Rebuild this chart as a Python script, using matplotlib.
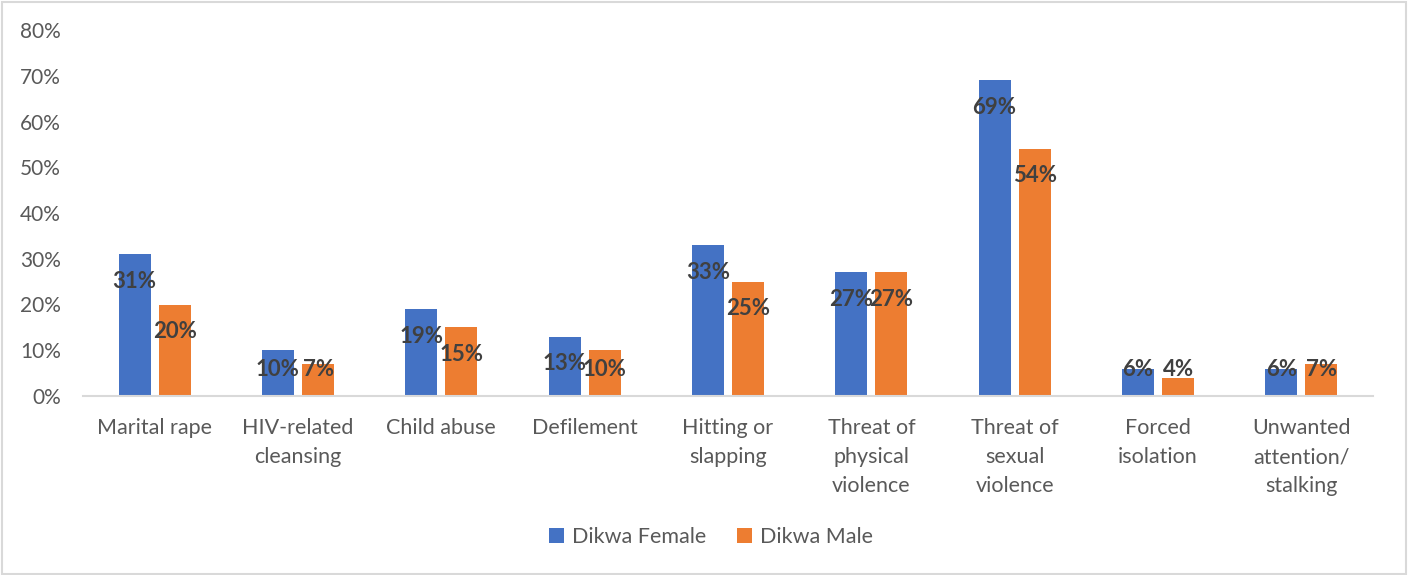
import matplotlib.pyplot as plt
import numpy as np
from matplotlib.patches import Rectangle
from matplotlib.ticker import MultipleLocator, PercentFormatter

categories = ["Marital rape", "HIV-related\ncleansing", "Child abuse", "Defilement",
              "Hitting or\nslapping", "Threat of\nphysical\nviolence",
              "Threat of\nsexual\nviolence", "Forced\nisolation",
              "Unwanted\nattention/\nstalking"]
female = [31, 10, 19, 13, 33, 27, 69, 6, 6]
male = [20, 7, 15, 10, 25, 27, 54, 4, 7]
series_names = ["Dikwa Female", "Dikwa Male"]

blue = "#4472C4"
orange = "#ED7D31"
text_col = "#595959"
label_col = "#404040"

plt.rcParams['font.family'] = ['Lato', 'DejaVu Sans']

fig = plt.figure(figsize=(14.08, 5.75), dpi=100)
ax = fig.add_axes([83 / 1408, 1 - 396 / 575, 1290 / 1408, 366 / 575])

x = np.arange(len(categories))
w = 0.223
off = 0.14
b1 = ax.bar(x - off, female, w, color=blue, label=series_names[0])
b2 = ax.bar(x + off, male, w, color=orange, label=series_names[1])

# value labels sit just inside the top of each bar, never too close to the axis
for bars, vals in ((b1, female), (b2, male)):
    for rect, v in zip(bars, vals):
        y = max(v - 5.9, 5.7)
        ax.text(rect.get_x() + rect.get_width() / 2, y, f"{v}%", ha="center",
                va="center", fontsize=16, fontweight="bold", color=label_col)

ax.set_xlim(-0.5, len(categories) - 0.5)
ax.set_ylim(0, 80)
ax.yaxis.set_major_locator(MultipleLocator(10))
ax.yaxis.set_major_formatter(PercentFormatter(decimals=0))
ax.set_xticks(x)
ax.set_xticklabels(categories, fontsize=15.5, color=text_col, linespacing=1.56)
ax.tick_params(axis="y", labelsize=15, labelcolor=text_col, length=0, pad=16)
ax.tick_params(axis="x", length=0, pad=16)
for s in ("top", "right", "left"):
    ax.spines[s].set_visible(False)
ax.spines["bottom"].set_color("#D9D9D9")
ax.spines["bottom"].set_linewidth(1.5)

fig.legend(loc="center", bbox_to_anchor=(0.505, 1 - 537 / 575), ncol=2,
           frameon=False, fontsize=15.5, labelcolor=text_col, handlelength=0.7,
           handleheight=0.7, columnspacing=1.4, handletextpad=0.4)

# light frame round the whole chart
fig.patches.append(Rectangle((0.0015, 0.002), 0.997, 0.995, transform=fig.transFigure,
                             fill=False, edgecolor="#D9D9D9", linewidth=1.5))

fig.savefig("out.png", dpi=100)
